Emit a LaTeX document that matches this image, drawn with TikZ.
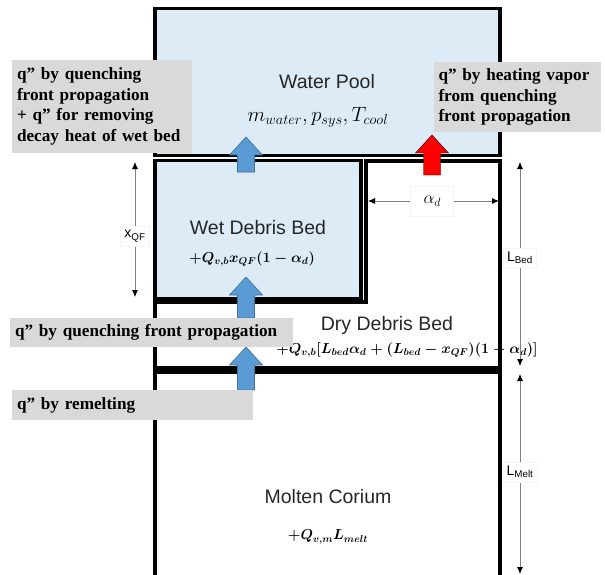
\documentclass[tikz,border=0pt]{standalone}
\usepackage{amsmath}
\usepackage{fontspec}
\setmainfont{Liberation Serif}
\newfontfamily\arialfont{Liberation Sans}
\usetikzlibrary{arrows.meta,positioning}
\definecolor{poolblue}{RGB}{221,235,247}
\definecolor{arrowblue}{RGB}{91,155,213}
\definecolor{arrowedge}{RGB}{65,113,156}
\definecolor{notegray}{RGB}{217,217,217}
\newcommand{\fatarrow}[4]{%
    \draw[#4] (#1-8.5,#3) -- (#1-8.5,#2+18) -- (#1-16.5,#2+18) -- (#1,#2)
        -- (#1+16.5,#2+18) -- (#1+8.5,#2+18) -- (#1+8.5,#3) -- cycle;}
\begin{document}
\begin{tikzpicture}[
    x=1pt, y=-1pt,
    box/.style={draw=black, line width=3.5pt, inner sep=0pt},
    title/.style={font=\arialfont\fontsize{19.5}{22}\selectfont, text=black!85},
    eq/.style={font=\fontsize{14}{16}\selectfont},
    note/.style={fill=notegray, font=\bfseries\fontsize{17.2}{20.7}\selectfont, align=left, inner xsep=5pt, inner ysep=3pt},
    dim/.style={draw=gray, line width=0.8pt, {Latex[black,length=7pt,width=6pt]}-{Latex[black,length=7pt,width=6pt]}},
    dimlabel/.style={fill=white, draw=gray!8, font=\arialfont\fontsize{14}{16}\selectfont, inner sep=4pt},
    upblue/.style={fill=arrowblue, draw=arrowedge, line width=0.6pt},
    upred/.style={fill=red}
]
\clip (0,0) rectangle (605,575);

\node[box, fill=poolblue, minimum width=345pt, minimum height=147pt] (pool) at (327.5,82) {};
\node[box, fill=poolblue, minimum width=206pt, minimum height=138pt] (wet) at (258,229.5) {};

\node[title] (pooltitle) at (327,82) {Water Pool};
\node[eq, font=\fontsize{21}{24}\selectfont] (pooleq) at (318,117) {$m_{water}, p_{sys}, T_{cool}$};
\node[title] (wettitle) at (258,228) {Wet Debris Bed};
\node[eq] (weteq) at (252,259) {$\boldsymbol{+Q_{v,b}x_{QF}(1-\alpha_d)}$};
\node[title] (drytitle) at (387,325) {Dry Debris Bed};
\node[eq] (dryeq) at (407,350) {$\boldsymbol{+Q_{v,b}[L_{bed}\alpha_d+(L_{bed}-x_{QF})(1-\alpha_d)]}$};
\node[title] (melttitle) at (328,497) {Molten Corium};
\node[eq] (melteq) at (328,537) {$\boldsymbol{+Q_{v,m}L_{melt}}$};

\draw[box] (366,161) -- (500,161) -- (500,368) -- (155,368) -- (155,302) -- (366,302) -- cycle;
\node[box, minimum width=345pt, minimum height=228pt] (melt) at (327.5,486) {};

\fatarrow{246}{137}{172}{upblue}
\fatarrow{246}{277}{318}{upblue}
\fatarrow{246}{347}{390}{upblue}
\fatarrow{432}{135}{175}{upred}

\coordinate (qftop) at (135,162);
\coordinate (qfbot) at (135,297);
\coordinate (adleft) at (368,201);
\coordinate (adright) at (499,201);
\coordinate (bedtop) at (520,162);
\coordinate (bedbot) at (520,366);
\coordinate (melttop) at (520,374);
\coordinate (meltbot) at (520,574);
\draw[dim] (qftop) -- (qfbot) node[pos=0.55, dimlabel] (qflabel) {x\textsubscript{QF}};
\draw[dim] (adleft) -- (adright) node[pos=0.49, dimlabel, font=\fontsize{18}{20}\selectfont, minimum width=43pt, minimum height=30pt] (adlabel) {$\alpha_d$};
\draw[dim] (bedtop) -- (bedbot) node[pos=0.47, dimlabel] (bedlabel) {L\textsubscript{Bed}};
\draw[dim] (melttop) -- (meltbot) node[pos=0.49, dimlabel] (meltlabel) {L\textsubscript{Melt}};

\node[note, text width=170pt, minimum height=93pt] (noteleft) at (102,106.5) {q” by quenching\\front propagation\\+ q” for removing\\decay heat of wet bed};
\node[note, text width=157pt, minimum height=70pt] (noteright) at (517,97) {q” by heating vapor\\from quenching\\front propagation};
\node[note, text width=273pt, minimum height=29pt] (notequench) at (151.5,332.5) {q” by quenching front propagation};
\node[note, text width=231pt, minimum height=30pt] (noteremelt) at (132.5,405) {q” by remelting};
\end{tikzpicture}
\end{document}
